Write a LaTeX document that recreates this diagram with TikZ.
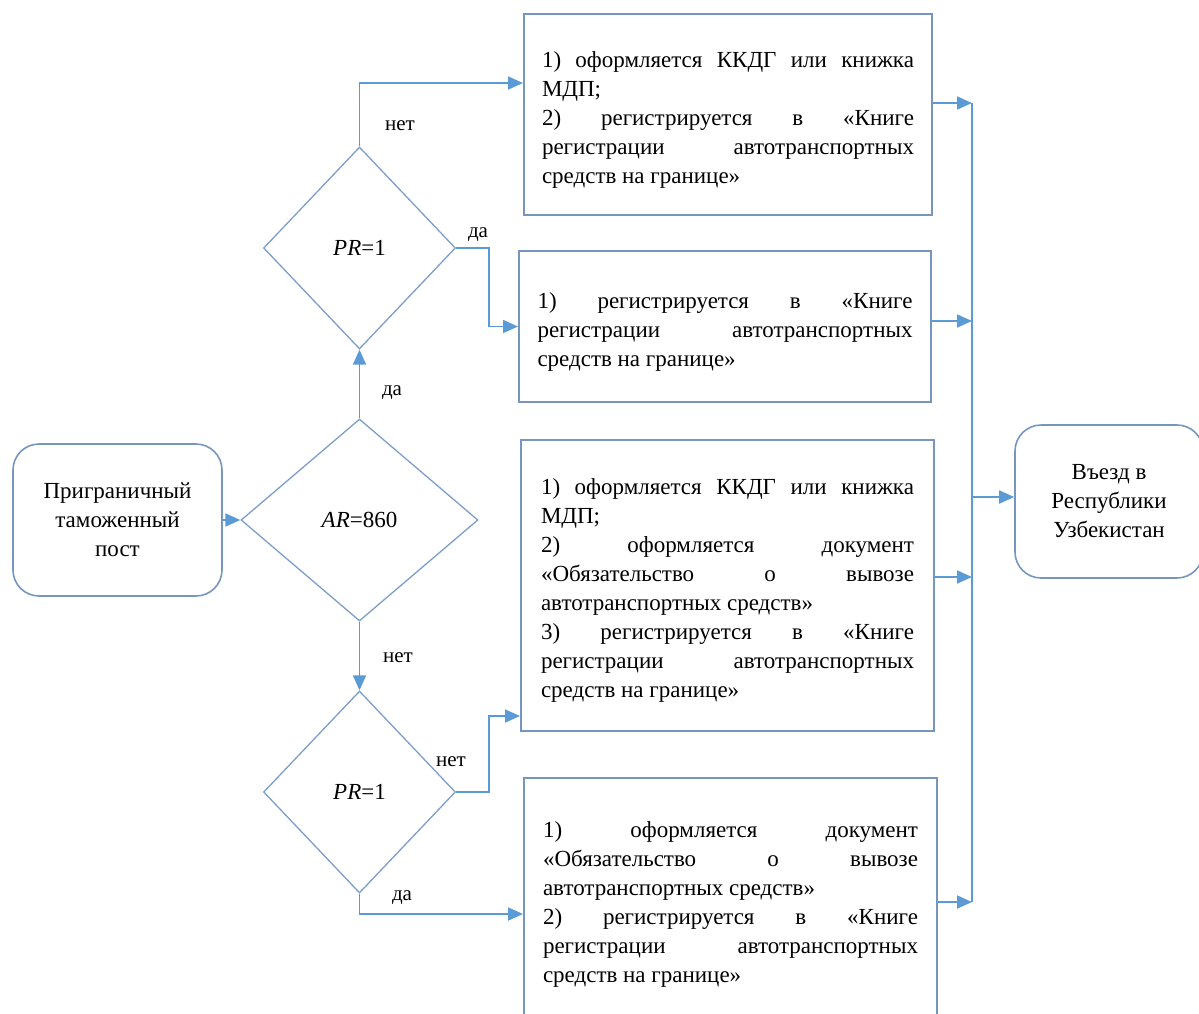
\documentclass[tikz,border=0pt]{standalone}
\usepackage{fontspec}
\setmainfont{Liberation Serif}
\usetikzlibrary{shapes.geometric,arrows.meta}
\definecolor{conn}{RGB}{91,155,213}
\definecolor{boxc}{RGB}{118,150,192}
\definecolor{dmc}{RGB}{125,158,200}
\newcommand{\bxt}[2][372pt]{\parbox{#1}{\hyphenpenalty=10000 \tolerance=10000 \emergencystretch=20pt \vspace*{10pt}#2}}
\begin{document}
\begin{tikzpicture}[x=1pt,y=-1pt,
  every node/.style={font=\fontsize{23}{29}\selectfont, inner sep=0pt},
  procbox/.style={draw=boxc, line width=2pt, rectangle},
  termbox/.style={draw=boxc, line width=1.6pt, rectangle, rounded corners=26pt, align=center},
  dmd/.style={draw=dmc, line width=1.3pt, diamond, inner sep=0pt},
  arr/.style={draw=conn, line width=1.8pt, -{Triangle[length=15pt,width=13pt]}},
  lne/.style={draw=conn, line width=1.8pt},
  lbl/.style={font=\fontsize{21}{24}\selectfont}
]
\useasboundingbox (0,0) rectangle (1199,1013);
\clip (0,0) rectangle (1199,1013);

% terminal boxes
\node[termbox, minimum width=209pt, minimum height=152pt] (start) at (117.5,520) {Приграничный\\таможенный\\пост};
\node[termbox, minimum width=188pt, minimum height=153pt] (end) at (1109,501.5) {Въезд в\\Республики\\Узбекистан};

% diamonds
\node[dmd, minimum width=237pt, minimum height=202pt] (ar) at (359.5,520) {\textit{AR}=860};
\node[dmd, minimum width=192pt, minimum height=202pt] (pr1) at (359.5,248) {\textit{PR}=1};
\node[dmd, minimum width=192pt, minimum height=202pt] (pr2) at (359.5,792) {\textit{PR}=1};

% process boxes
\node[procbox, minimum width=408pt, minimum height=201pt] (b1) at (728,114.5)
  {\bxt{1) оформляется ККДГ или книжка\linebreak МДП;\par 2) регистрируется в «Книге\linebreak регистрации автотранспортных\linebreak средств на границе»}};
\node[procbox, minimum width=412pt, minimum height=151pt] (b2) at (725,326.5)
  {\bxt[375pt]{1) регистрируется в «Книге\linebreak регистрации автотранспортных\linebreak средств на границе»}};
\node[procbox, minimum width=413pt, minimum height=291pt] (b3) at (727.5,585.5)
  {\bxt[373pt]{1) оформляется ККДГ или книжка\linebreak МДП;\par 2) оформляется документ\linebreak «Обязательство о вывозе\linebreak автотранспортных средств»\par 3) регистрируется в «Книге\linebreak регистрации автотранспортных\linebreak средств на границе»}};
\node[procbox, minimum width=413pt, minimum height=242pt] (b4) at (730.5,899)
  {\bxt[375pt]{1) оформляется документ\linebreak «Обязательство о вывозе\linebreak автотранспортных средств»\par 2) регистрируется в «Книге\linebreak регистрации автотранспортных\linebreak средств на границе»}};

% helper coordinates
\coordinate (y83) at (0,83);
\coordinate (y716) at (0,716);
\coordinate (y914) at (0,914);
\coordinate (bus1) at (972,103);
\coordinate (bus2) at (972,321);
\coordinate (bus3) at (972,577);
\coordinate (bus4) at (972,902);
\coordinate (busm) at (972,497);

% connectors
\draw[arr] (start.east) -- (ar.west);
\draw[arr] (ar.north) -- (pr1.south);
\draw[arr] (ar.south) -- (pr2.north);
\draw[arr] (pr1.north) |- (b1.west |- y83);
\draw[arr] (pr1.east) -- ++(33,0) |- (b2.west);
\draw[arr] (pr2.east) -- ++(33,0) |- (b3.west |- y716);
\draw[arr] (pr2.south) |- (b4.west |- y914);

\draw[arr] (b1.east |- bus1) -- (bus1);
\draw[arr] (b2.east |- bus2) -- (bus2);
\draw[arr] (b3.east |- bus3) -- (bus3);
\draw[arr] (b4.east |- bus4) -- (bus4);
\draw[lne] (bus1) -- (bus4);
\draw[arr] (busm) -- (end.west |- busm);

% labels
\node[lbl] (l1) at (400,126) {нет};
\node[lbl] (l2) at (478,235) {да};
\node[lbl] (l3) at (392,393) {да};
\node[lbl] (l4) at (398,658) {нет};
\node[lbl] (l5) at (451,762) {нет};
\node[lbl] (l6) at (402,898) {да};
\end{tikzpicture}
\end{document}
